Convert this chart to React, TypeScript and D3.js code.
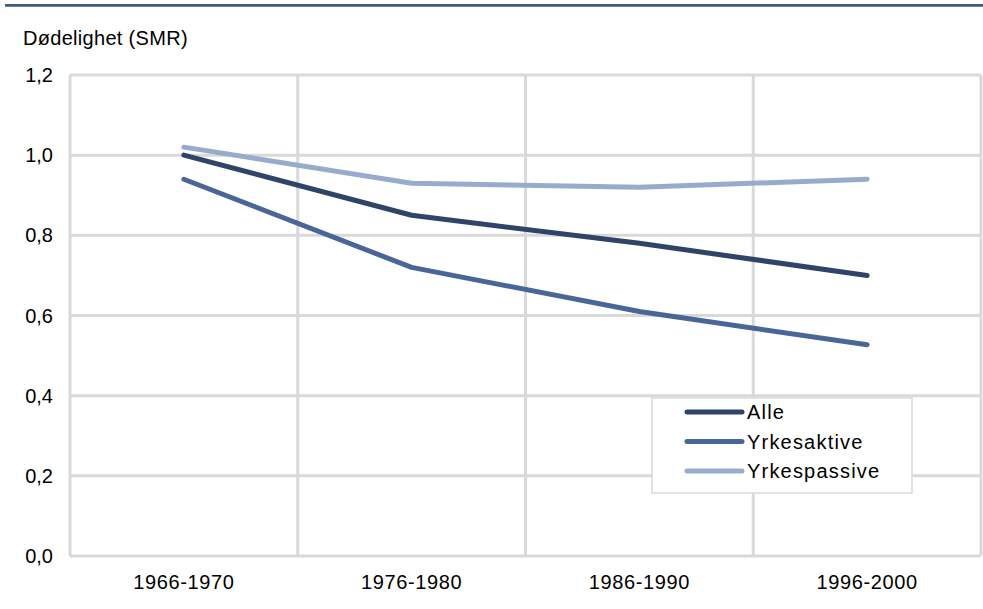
import React from 'react';
import * as d3 from 'd3';

const periods = ['1966-1970', '1976-1980', '1986-1990', '1996-2000'];
const alle = [1.0, 0.85, 0.78, 0.7];
const yrkesaktive = [0.94, 0.72, 0.61, 0.527];
const yrkespassive = [1.02, 0.93, 0.92, 0.94];
const yTicks = [0, 0.2, 0.4, 0.6, 0.8, 1.0, 1.2];

const series = [
  { name: 'Alle', values: alle, color: '#2f4468' },
  { name: 'Yrkesaktive', values: yrkesaktive, color: '#4a6698' },
  { name: 'Yrkespassive', values: yrkespassive, color: '#98abcf' },
];

const W = 983;
const H = 609;
const left = 70;
const right = 981;
const top = 75;
const bottom = 556;
const font = '"Liberation Sans", Arial, sans-serif';
const grid = '#d9d9d9';

export default function App() {
  const x = d3.scaleBand().domain(periods).range([left, right]);
  const y = d3.scaleLinear().domain([0, 1.2]).range([bottom, top]);
  const line = d3.line<number>()
    .x((_, i) => x(periods[i])! + x.bandwidth() / 2)
    .y(d => y(d));

  return (
    <svg width={W} height={H} style={{ position: 'absolute', left: 0, top: 0 }}>
      <rect width={W} height={H} fill="#fff" />
      <line x1={5} x2={983} y1={5.3} y2={5.3} stroke="#3e5a82" strokeWidth={2.7} />
      <text x={23} y={45} fontFamily={font} fontSize={20} letterSpacing={0.3} fill="#000">Dødelighet (SMR)</text>

      {/* gridlines */}
      {yTicks.map(t => (
        <line key={t} x1={left} x2={right} y1={y(t)} y2={y(t)} stroke={grid} strokeWidth={3} />
      ))}
      {periods.map(p => (
        <line key={p} x1={x(p)!} x2={x(p)!} y1={top} y2={bottom} stroke={grid} strokeWidth={3} />
      ))}
      <line x1={right} x2={right} y1={top} y2={bottom} stroke={grid} strokeWidth={3} />

      {yTicks.map(t => (
        <text key={t} x={53} y={y(t)} dy="0.35em" textAnchor="end" fontFamily={font} fontSize={20} fill="#000">
          {d3.format('.1f')(t).replace('.', ',')}
        </text>
      ))}
      {periods.map(p => (
        <text key={p} x={x(p)! + x.bandwidth() / 2} y={589} textAnchor="middle" fontFamily={font} fontSize={20} letterSpacing={0.6} fill="#000">
          {p}
        </text>
      ))}

      {series.map(s => (
        <path key={s.name} d={line(s.values)!} fill="none" stroke={s.color} strokeWidth={5} strokeLinecap="round" strokeLinejoin="round" />
      ))}

      {/* legend */}
      <rect x={652} y={398} width={260} height={95} fill="#fff" stroke={grid} strokeWidth={1.5} />
      {series.map((s, i) => (
        <g key={s.name} transform={`translate(0, ${412 + i * 29.5})`}>
          <line x1={687} x2={742} y1={0} y2={0} stroke={s.color} strokeWidth={5} strokeLinecap="round" />
          <text x={747} y={0} dy="0.35em" fontFamily={font} fontSize={20} letterSpacing={1.2} fill="#000">{s.name}</text>
        </g>
      ))}
    </svg>
  );
}
